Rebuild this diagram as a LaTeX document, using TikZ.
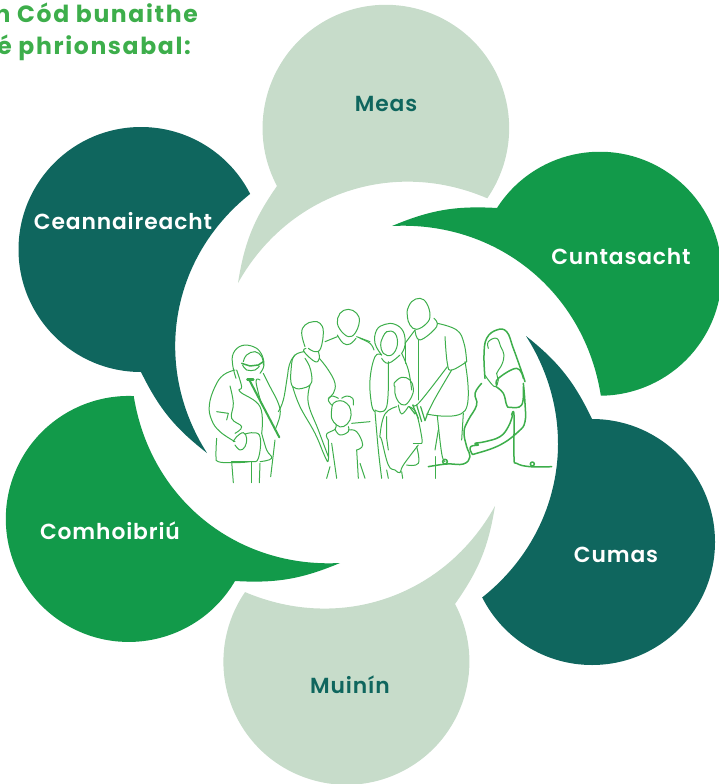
\documentclass[tikz,border=0pt]{standalone}
\usepackage{fontspec}
\setmainfont{Poppins}[BoldFont={Poppins SemiBold}]
\newfontfamily\headfont{Poppins Bold}[LetterSpace=7]
\definecolor{teal}{HTML}{0F665E}
\definecolor{grn}{HTML}{129A4A}
\definecolor{pale}{HTML}{C7DCCA}
\definecolor{lin}{HTML}{3DAE4B}
\tikzset{
  lab/.style={font=\fontsize{21.8}{24}\selectfont\bfseries\addfontfeatures{LetterSpace=4},inner sep=0pt,anchor=center},
  head/.style={font=\headfont\fontsize{23.5}{24}\selectfont,text=lin,inner sep=0pt,anchor=base east},
  zoomed/.style={x=0.33333pt,y=-0.33333pt},
  fig/.style={draw=lin,line width=1pt,line join=round,line cap=round,fill=none},
  figt/.style={fig,line width=1.5pt},
  sm/.style={smooth,tension=0.7},
  inner/.style={bend right=42},
  outer/.style={bend left=13},
}
\newcommand{\cv}[2][]{\draw[fig,#1] plot[sm] coordinates {#2};}
\begin{document}
\begin{tikzpicture}[x=1pt,y=-1pt]
\useasboundingbox (0,0) rectangle (719,784);
\clip (0,0) rectangle (719,784);
% Bubbles
\fill[pale] (277,186) arc[start angle=152,end angle=394.7,radius=123.3]
  to[inner] (238,283) to[outer] (277,186) -- cycle;
\fill[grn] (497,208) arc[start angle=212.6,end angle=449.5,radius=122]
  to[inner] (392,226) to[outer] (497,208) -- cycle;
\fill[teal] (592,419) arc[start angle=270,end angle=513.2,radius=123]
  to[inner] (526,336) to[outer] (592,419) -- cycle;
\fill[pale] (455,604) arc[start angle=332,end angle=574.5,radius=123]
  to[inner] (495,506) to[outer] (455,604) -- cycle;
\fill[grn] (235,581) arc[start angle=30.3,end angle=272.3,radius=123]
  to[inner] (340,563) to[outer] (235,581) -- cycle;
\fill[teal] (141,372) arc[start angle=90,end angle=333,radius=122.5]
  to[inner] (207,453) to[outer] (141,372) -- cycle;
% Labels
\node[lab,text=teal] (meas) at (386,104) {Meas};
\node[lab,text=white] (cunt) at (621,257) {Cuntasacht};
\node[lab,text=white] (cuma) at (616,555) {Cumas};
\node[lab,text=teal] (muin) at (350,685) {Muinín};
\node[lab,text=white] (comh) at (110,531) {Comhoibriú};
\node[lab,text=white] (cean) at (123,221) {Ceannaireacht};
\node[head] (h1) at (198,23) {n Cód bunaithe};
\node[head] (h2) at (191,55) {é phrionsabal:};
% Left half of family
\begin{scope}[shift={(200,290)},zoomed]
% old lady
\cv{(108,265) (98,225) (100,190) (125,167) (160,170) (183,190) (192,225) (180,250)}
\cv{(130,215) (140,195) (165,185) (185,200) (190,225)}
\cv{(128,225) (140,240) (165,240) (178,228)}
\draw[figt] (125,220) -- (150,228) -- (175,225) -- (190,215);
\cv{(105,240) (70,255) (45,290) (28,345) (35,390) (60,425) (105,455)}
\cv{(190,250) (210,290) (235,340) (240,375) (225,420)}
\draw[fig,line width=2pt] (148,270) -- (238,442);
\draw[fig,line width=2.4pt] (142,268) -- (160,268);
\cv{(110,240) (125,290) (120,305) (180,350) (185,430)}
\cv{(180,270) (168,275) (185,345)}
\cv{(50,445) (48,500) (55,515) (95,518) (150,515) (175,505) (178,435) (135,432)}
\cv{(100,455) (110,440) (130,428) (140,445) (135,470) (120,480) (105,465)}
\draw[fig] (95,515) -- (100,578);
\draw[fig] (155,515) -- (155,578);
\draw[figt] (95,514) -- (155,514);
\draw[fig] (180,520) -- (178,578);
\draw[fig] (225,450) -- (212,560);
\cv{(185,430) (200,480) (215,505) (180,515)}
\draw[fig] (50,365) -- (85,370) -- (80,390);
\cv{(90,288) (100,340) (95,385) (125,410) (105,430)}
% woman
\cv{(315,170) (305,130) (315,105) (340,95) (360,100) (370,125) (362,175) (345,185) (325,175)}
\cv{(318,175) (312,185) (345,215) (358,205) (355,185)}
\cv{(312,185) (285,195) (268,225) (262,260) (250,330) (235,365)}
\cv{(285,195) (275,220) (278,290) (330,285) (332,240) (315,205)}
\cv{(278,290) (300,350) (345,430) (375,500) (385,510) (385,450)}
\cv{(330,285) (325,340) (355,420) (385,500)}
\cv{(358,205) (385,240) (405,280) (400,310) (385,325)}
\draw[fig] (395,460) -- (410,565);
\draw[fig] (380,565) -- (390,530);
% man behind
\cv{(425,125) (412,100) (420,70) (445,58) (470,70) (478,95) (465,130) (445,140) (425,125)}
\cv{(412,135) (430,160) (450,162) (468,145)}
\cv{(375,155) (412,140)}
\cv{(470,140) (510,155)}
\cv{(455,400) (510,395)}
% girl
\cv{(395,345) (385,330) (395,318) (415,325)}
\cv{(425,325) (440,318) (458,325) (460,345)}
\cv{(395,360) (395,385) (410,405) (430,410) (450,390) (452,360) (440,340) (420,332) (400,340) (395,360)}
\cv{(408,405) (405,418) (380,432) (385,450)}
\cv{(405,418) (420,435) (445,425) (445,410)}
\cv{(445,420) (470,425) (488,465) (470,480)}
\draw[fig] (470,480) -- (475,565);
\draw[fig] (480,520) -- (495,565);
\end{scope}
% Right half of family
\begin{scope}[shift={(360,290)},zoomed]
% curly woman
\cv{(65,195) (45,160) (50,120) (75,103) (105,103) (130,125) (135,165) (125,190)}
\cv{(65,150) (80,125) (105,130) (112,165) (95,195) (70,190) (62,165) (65,150)}
\cv{(65,195) (45,200) (30,270) (35,345) (45,365)}
\cv{(125,190) (145,240) (155,300)}
\cv{(85,215) (80,350) (45,360)}
\cv{(65,205) (85,220) (120,195)}
\cv{(45,365) (55,480) (65,565)}
\cv{(0,145) (30,160) (42,180)}
% boy
\cv{(105,290) (102,280) (125,262) (150,270) (160,295) (155,320) (135,345) (115,335) (105,310) (105,290)}
\cv{(115,345) (125,372) (145,350)}
\cv{(110,350) (75,372) (60,435) (65,450) (85,525) (105,540) (120,548) (130,525) (175,465)}
\cv{(145,350) (168,368) (185,440) (185,460)}
\cv{(170,470) (175,520) (140,525)}
\draw[fig] (80,380) -- (80,445) -- (85,480);
\draw[fig] (160,460) -- (185,460);
\draw[fig] (80,540) -- (85,565);
\draw[fig] (125,545) -- (128,565);
% tall man
\cv{(142,60) (155,35) (180,25) (200,40) (210,75) (200,100) (170,118) (150,105) (142,80) (142,60)}
\cv{(165,120) (180,150) (230,110) (222,85)}
\cv{(165,120) (135,160)}
\cv{(232,100) (290,120) (312,160) (320,215)}
\cv{(255,140) (262,220) (275,240) (320,215)}
\cv{(275,240) (228,320) (205,365)}
\cv{(262,230) (180,335) (160,345)}
\cv{(200,372) (315,362) (315,215)}
\draw[fig] (175,150) -- (175,330);
\cv{(232,378) (245,490) (255,515)}
\draw[fig] (310,370) -- (305,450);
\draw[fig] (225,500) -- (225,565);
\draw[fig] (235,420) -- (225,480);
\draw[fig] (135,160) -- (135,220);
\draw[fig,line width=1.2pt] (148,350) -- (165,372) (158,345) -- (175,385) (170,345) -- (185,395) (182,350) -- (195,392) -- (205,365);
% pregnant woman
\cv[figt]{(375,265) (372,195) (380,145) (410,120) (440,125) (460,175) (485,245) (495,275)}
\cv{(385,175) (385,155) (410,145) (422,170) (432,195) (425,225) (410,250) (415,270) (405,290) (385,270) (375,255)}
\cv[figt]{(410,285) (415,265) (470,235) (490,265)}
\cv[figt]{(365,280) (345,310) (350,345) (325,390) (312,425) (320,470) (330,500) (310,522) (260,522) (205,530)}
\draw[figt] (255,515) circle[radius=7];
\cv[figt]{(408,290) (430,310) (440,345) (450,352) (485,345) (490,290)}
\cv[figt]{(490,280) (495,340) (495,395) (475,425) (420,465) (350,490) (335,490) (332,470) (355,465) (345,460) (375,455) (420,440) (445,410) (458,375)}
\cv[figt]{(455,375) (462,375) (462,500) (470,520) (510,530) (575,530)}
\draw[figt] (517,522) circle[radius=6];
\end{scope}
\end{tikzpicture}
\end{document}
